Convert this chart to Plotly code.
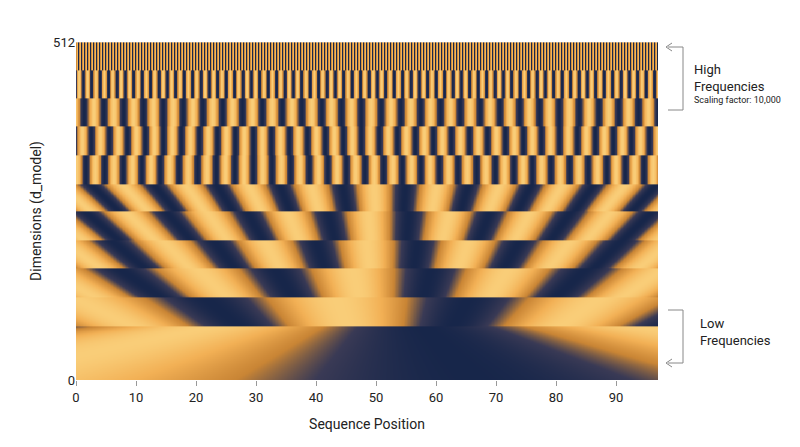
import numpy as np
import plotly.graph_objects as go

# band edges (d_model units) and stripe periods (sequence positions) at band bottom / top
band_lo = [0, 83, 126, 170, 212, 256, 298, 341, 385, 427, 470]
band_hi = [83, 126, 170, 212, 256, 298, 341, 385, 427, 470, 512]
period_bottom = [170, 36, 22, 15, 12, 9.5, 3.1, 3.0, 3.3, 1.4, 0.5]
period_top = [70, 44, 26, 17, 13.5, 10.5, 3.1, 3.0, 3.3, 1.4, 0.5]
phase = [-2.1, 2.8, 3.0, 2.9, 3.1, 3.0, 0.0, 1.5, 0.7, 0.3, 0.0]
center = 52

x = np.arange(0, 97.01, 0.1)
y = np.arange(0, 512, 1.0)
Z = np.zeros((len(y), len(x)))
for i, yy in enumerate(y):
    for b in range(len(band_lo)):
        if band_lo[b] <= yy < band_hi[b]:
            t = (yy - band_lo[b]) / (band_hi[b] - band_lo[b])
            p = period_bottom[b] + t * (period_top[b] - period_bottom[b])
            Z[i] = np.sin(2 * np.pi * (x - center) / p + phase[b])
            break

cs = [[0, "#17264a"], [0.22, "#3a3a55"], [0.45, "#c98535"], [0.75, "#f2b055"], [1, "#f9cd78"]]
fig = go.Figure(go.Heatmap(x=x, y=y, z=Z, colorscale=cs, showscale=False, zsmooth="best"))

fnt = dict(family="Roboto", color="#222")
fig.update_layout(
    width=800, height=447, margin=dict(l=68, r=150, t=34, b=75, autoexpand=False),
    plot_bgcolor="white", paper_bgcolor="white", font=fnt,
    xaxis=dict(range=[0, 97], tickvals=list(range(0, 100, 10)), ticks="outside", ticklen=5,
               tickcolor="#999", showgrid=False, zeroline=False,
               title=dict(text="Sequence Position", font=dict(size=14)), tickfont=dict(size=13)),
    yaxis=dict(range=[0, 512], tickvals=[0, 512], showgrid=False, zeroline=False,
               title=dict(text="Dimensions (d_model)", font=dict(size=14), standoff=8), tickfont=dict(size=13)),
)

def px(p): return (p - 76) / 582
def py(p): return (380 - p) / 338

line = dict(color="#888", width=1)
shapes = []
for (y0, y1) in [(47, 110), (310, 363)]:
    shapes += [
        dict(type="line", xref="paper", yref="paper", x0=px(668), x1=px(683), y0=py(y0), y1=py(y0), line=line),
        dict(type="line", xref="paper", yref="paper", x0=px(683), x1=px(683), y0=py(y0), y1=py(y1), line=line),
        dict(type="line", xref="paper", yref="paper", x0=px(668), x1=px(683), y0=py(y1), y1=py(y1), line=line),
    ]
for ya in [47, 363]:
    shapes += [
        dict(type="line", xref="paper", yref="paper", x0=px(666), x1=px(672), y0=py(ya), y1=py(ya - 4), line=line),
        dict(type="line", xref="paper", yref="paper", x0=px(666), x1=px(672), y0=py(ya), y1=py(ya + 4), line=line),
    ]
fig.update_layout(shapes=shapes)
ann = [
    dict(text="High<br>Frequencies", x=px(692), y=py(78), size=13),
    dict(text="Scaling factor: 10,000", x=px(692), y=py(100), size=9),
    dict(text="Low<br>Frequencies", x=px(698), y=py(332), size=13),
]
for a in ann:
    fig.add_annotation(text=a["text"], x=a["x"], y=a["y"], xref="paper", yref="paper",
                       xanchor="left", yanchor="middle", showarrow=False, align="left",
                       font=dict(family="Roboto", size=a["size"], color="#222"))

fig.write_html("out.html")
